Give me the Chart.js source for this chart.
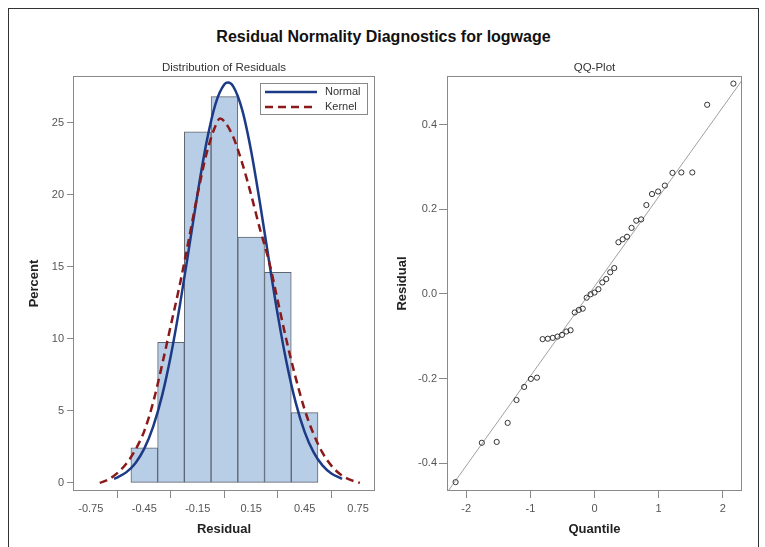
<!DOCTYPE html>
<html>
<head>
<meta charset="utf-8">
<script src="https://cdn.jsdelivr.net/npm/chart.js@4.4.1/dist/chart.umd.min.js"></script>
<style>
  body { margin: 0; background: #fff; width: 765px; height: 547px; overflow: hidden; position: relative; font-family: "Liberation Sans", Arial, sans-serif; }
  #frame { position: absolute; left: 8px; top: 8px; width: 749px; height: 560px; border: 1px solid #333; }
  #title { position: absolute; left: 8px; width: 751px; top: 27px; text-align: center; font-weight: bold; font-size: 16px; line-height: 19px; color: #111; }
  canvas { position: absolute; top: 0; }
  #hist { left: 0; }
  #qq { left: 390px; }
</style>
</head>
<body>
<div id="frame"></div>
<div id="title">Residual Normality Diagnostics for logwage</div>
<canvas id="hist" width="390" height="547"></canvas>
<canvas id="qq" width="375" height="547"></canvas>
<script>
// histogram bins (midpoints) and percent per bin
const binMid = [-0.45, -0.30, -0.15, 0.00, 0.15, 0.30, 0.45];
const binPct = [2.44, 9.76, 24.39, 26.83, 17.07, 14.63, 4.88];

// normal curve
const normalX = [-0.62, -0.60, -0.55, -0.50, -0.45, -0.40, -0.35, -0.30, -0.25, -0.20, -0.15, -0.10, -0.05, 0.00, 0.02, 0.05, 0.10, 0.15, 0.20, 0.25, 0.30, 0.35, 0.40, 0.45, 0.50, 0.55, 0.60, 0.66];
const normalY = [0.29, 0.39, 0.75, 1.37, 2.38, 3.91, 6.06, 8.90, 12.35, 16.23, 20.16, 23.69, 26.33, 27.68, 27.80, 27.52, 25.89, 23.04, 19.39, 15.43, 11.62, 8.28, 5.58, 3.55, 2.14, 1.22, 0.66, 0.29];

// kernel curve
const kernelX = [-0.70, -0.65, -0.60, -0.55, -0.50, -0.45, -0.40, -0.35, -0.30, -0.25, -0.20, -0.15, -0.10, -0.05, -0.025, 0.00, 0.05, 0.10, 0.15, 0.20, 0.25, 0.30, 0.35, 0.40, 0.45, 0.50, 0.55, 0.60, 0.65, 0.70, 0.76];
const kernelY = [0.0, 0.25, 0.7, 1.35, 2.3, 3.6, 5.6, 8.2, 11.0, 13.8, 16.9, 20.1, 22.9, 24.8, 25.3, 25.1, 24.0, 22.2, 20.0, 17.6, 15.4, 12.6, 9.8, 7.3, 5.1, 3.4, 2.1, 1.2, 0.6, 0.25, 0.0];

const histXTicks = [-0.75, -0.45, -0.15, 0.15, 0.45, 0.75];
const histYTicks = [0, 5, 10, 15, 20, 25];

// QQ plot
const qqQuantile = [-2.166, -1.757, -1.525, -1.354, -1.216, -1.097, -0.992, -0.897, -0.809, -0.728, -0.651, -0.578, -0.507, -0.439, -0.373, -0.308, -0.245, -0.183, -0.122, -0.061, 0, 0.061, 0.122, 0.183, 0.245, 0.308, 0.373, 0.439, 0.507, 0.578, 0.651, 0.728, 0.809, 0.897, 0.992, 1.097, 1.216, 1.354, 1.525, 1.757, 2.166];
const qqResidual = [-0.445, -0.352, -0.350, -0.305, -0.251, -0.220, -0.201, -0.198, -0.107, -0.106, -0.104, -0.101, -0.097, -0.089, -0.086, -0.044, -0.038, -0.035, -0.009, -0.001, 0.003, 0.011, 0.027, 0.035, 0.051, 0.061, 0.122, 0.129, 0.135, 0.156, 0.173, 0.176, 0.210, 0.236, 0.242, 0.256, 0.286, 0.287, 0.287, 0.447, 0.497];
const refX = [-2.4, 2.4];
const refY = [-0.491, 0.526];

const qqXTicks = [-2, -1, 0, 1, 2];
const qqYTicks = [-0.4, -0.2, 0.0, 0.2, 0.4];

const FONT = '"Liberation Sans", Arial, sans-serif';
Chart.defaults.font.family = FONT;
Chart.defaults.color = '#555';
Chart.defaults.animation = false;

const toPts = (xs, ys) => xs.map((x, i) => ({ x: x, y: ys[i] }));

// box around the plot area
const frameBox = {
  id: 'frameBox',
  afterDraw(chart) {
    const a = chart.chartArea, c = chart.ctx;
    c.save();
    c.strokeStyle = '#8a8a8a';
    c.lineWidth = 1;
    c.strokeRect(a.left + 0.5, a.top + 0.5, a.width - 1, a.height - 1);
    c.restore();
  }
};

// legend drawn inside the plot, top right
const insideLegend = {
  id: 'insideLegend',
  afterDatasetsDraw(chart) {
    const a = chart.chartArea, c = chart.ctx;
    const x = a.right - 115, y = a.top + 7;
    c.save();
    c.fillStyle = '#fff';
    c.fillRect(x, y, 107, 31);
    c.strokeStyle = '#888';
    c.lineWidth = 1;
    c.strokeRect(x + 0.5, y + 0.5, 107, 31);
    chart.data.datasets.filter(d => d.type === 'line').forEach((d, i) => {
      const ly = y + 9 + i * 15;
      c.strokeStyle = d.borderColor;
      c.lineWidth = d.borderWidth;
      c.setLineDash(d.borderDash || []);
      c.beginPath();
      c.moveTo(x + 5, ly);
      c.lineTo(x + 57, ly);
      c.stroke();
      c.setLineDash([]);
      c.fillStyle = '#333';
      c.font = '11px ' + FONT;
      c.textBaseline = 'middle';
      c.fillText(d.label, x + 65, ly);
    });
    c.restore();
  }
};

new Chart(document.getElementById('hist'), {
  type: 'bar',
  data: {
    datasets: [
      {
        type: 'line', label: 'Normal', data: toPts(normalX, normalY),
        borderColor: '#1c3a86', borderWidth: 2.5, pointRadius: 0,
        cubicInterpolationMode: 'monotone', order: 1
      },
      {
        type: 'line', label: 'Kernel', data: toPts(kernelX, kernelY),
        borderColor: '#8a1a1a', borderWidth: 2.5, borderDash: [8, 5], pointRadius: 0,
        cubicInterpolationMode: 'monotone', order: 0
      },
      {
        type: 'bar', label: 'Percent', data: toPts(binMid, binPct),
        backgroundColor: '#b8cde6', borderColor: '#5f6670', borderWidth: 1,
        borderSkipped: false, barPercentage: 1, categoryPercentage: 1, order: 2
      }
    ]
  },
  options: {
    responsive: false,
    layout: { padding: { left: 0, right: 15, top: 0, bottom: 0 } },
    plugins: {
      legend: { display: false },
      tooltip: { enabled: false },
      title: {
        display: true, text: 'Distribution of Residuals', fullSize: false,
        color: '#333', font: { size: 11.5, weight: 'normal' }, padding: { top: 61, bottom: 1.2 }
      }
    },
    scales: {
      x: {
        type: 'linear', min: -0.85, max: 0.845, offset: false,
        afterBuildTicks: a => { a.ticks = histXTicks.map(v => ({ value: v })); },
        afterFit: a => { a.height = 56; },
        ticks: { callback: v => v.toFixed(2), padding: 4, font: { size: 11 }, color: '#555', maxRotation: 0 },
        grid: { drawOnChartArea: false, tickLength: 7, color: '#888' },
        border: { display: false },
        title: { display: true, text: 'Residual', color: '#222', font: { size: 13, weight: 'bold' }, padding: { top: 0, bottom: 10 } }
      },
      y: {
        min: -0.56, max: 28.26,
        afterBuildTicks: a => { a.ticks = histYTicks.map(v => ({ value: v })); },
        afterFit: a => { a.width = 73; },
        ticks: { padding: 3, font: { size: 11 }, color: '#555' },
        grid: { drawOnChartArea: false, tickLength: 6, color: '#888' },
        border: { display: false },
        title: { display: true, text: 'Percent', color: '#222', font: { size: 13, weight: 'bold' }, padding: { top: 27, bottom: 0 } }
      }
    }
  },
  plugins: [frameBox, insideLegend]
});

new Chart(document.getElementById('qq'), {
  type: 'scatter',
  data: {
    datasets: [
      {
        label: 'Residual', data: toPts(qqQuantile, qqResidual),
        pointRadius: 2.6, pointBorderWidth: 1, borderColor: '#333',
        backgroundColor: 'rgba(0,0,0,0)', order: 0
      },
      {
        type: 'line', label: 'Reference', data: toPts(refX, refY),
        borderColor: '#a0a0a0', borderWidth: 1, pointRadius: 0, showLine: true, order: 1
      }
    ]
  },
  options: {
    responsive: false,
    layout: { padding: { left: 0, right: 23, top: 0, bottom: 0 } },
    plugins: {
      legend: { display: false },
      tooltip: { enabled: false },
      title: {
        display: true, text: 'QQ-Plot', fullSize: false,
        color: '#333', font: { size: 11.5, weight: 'normal' }, padding: { top: 61, bottom: 1.2 }
      }
    },
    scales: {
      x: {
        type: 'linear', min: -2.3, max: 2.3,
        afterBuildTicks: a => { a.ticks = qqXTicks.map(v => ({ value: v })); },
        afterFit: a => { a.height = 56; },
        ticks: { padding: 4, font: { size: 11 }, color: '#555', maxRotation: 0 },
        grid: { drawOnChartArea: false, tickLength: 7, color: '#888' },
        border: { display: false },
        title: { display: true, text: 'Quantile', color: '#222', font: { size: 13, weight: 'bold' }, padding: { top: 0, bottom: 10 } }
      },
      y: {
        min: -0.466, max: 0.515,
        afterBuildTicks: a => { a.ticks = qqYTicks.map(v => ({ value: v })); },
        afterFit: a => { a.width = 57; },
        ticks: { callback: v => v.toFixed(1), padding: 2, font: { size: 11 }, color: '#555' },
        grid: { drawOnChartArea: false, tickLength: 8, color: '#888' },
        border: { display: false },
        title: { display: true, text: 'Residual', color: '#222', font: { size: 13, weight: 'bold' }, padding: { top: 5, bottom: 0 } }
      }
    }
  },
  plugins: [frameBox]
});
</script>
</body>
</html>
